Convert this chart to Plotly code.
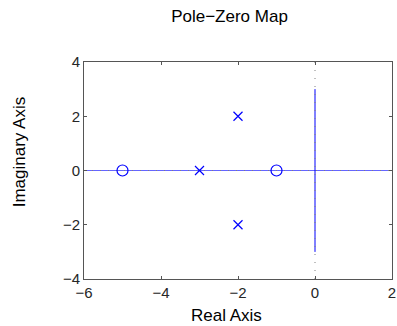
import plotly.graph_objects as go

# Data
pole_re = [-3, -2, -2]
pole_im = [0, 2, -2]
zero_re = [-5, -1]
zero_im = [0, 0]
branch_vert_x = [0, 0]
branch_vert_y = [-3, 3]
branch_horiz_x = [-6, 2]
branch_horiz_y = [0, 0]
x_ticks = [-6, -4, -2, 0, 2]
y_ticks = [-4, -2, 0, 2, 4]
x_ticktext = ["\u22126", "\u22124", "\u22122", "0", "2"]
y_ticktext = ["\u22124", "\u22122", "0", "2", "4"]

BLUE = "#0000ff"
GRAY = "#808080"
TXT = "#262626"
FONT = "Liberation Sans"
W, H = 397, 326
L, R, T, B = 84, 1, 62, 47

fig = go.Figure()
# real-axis line
fig.add_trace(go.Scatter(x=branch_horiz_x, y=branch_horiz_y, mode="lines",
                         line=dict(color=BLUE, width=1), opacity=0.6,
                         hoverinfo="skip", showlegend=False))
# vertical line at 0
fig.add_trace(go.Scatter(x=branch_vert_x, y=branch_vert_y, mode="lines",
                         line=dict(color=BLUE, width=1),
                         hoverinfo="skip", showlegend=False))
# dotted grey axis lines
fig.add_trace(go.Scatter(x=[0, 0], y=[y_ticks[0], y_ticks[-1]], mode="lines",
                         line=dict(color=GRAY, width=1, dash="1px,7px"),
                         hoverinfo="skip", showlegend=False))
fig.add_trace(go.Scatter(x=[x_ticks[0], x_ticks[-1]], y=[0, 0], mode="lines",
                         line=dict(color=GRAY, width=1, dash="1px,7px"),
                         hoverinfo="skip", showlegend=False))
# poles
fig.add_trace(go.Scatter(x=pole_re, y=pole_im, mode="markers",
                         marker=dict(symbol="x-thin", size=9, color=BLUE,
                                     line=dict(color=BLUE, width=1.2)),
                         showlegend=False))
# zeros
fig.add_trace(go.Scatter(x=zero_re, y=zero_im, mode="markers",
                         marker=dict(symbol="circle-open", size=11, color=BLUE,
                                     line=dict(color=BLUE, width=1.2)),
                         showlegend=False))

axis_common = dict(showgrid=False, zeroline=False, showline=True, mirror="ticks",
                   linecolor="#555555", linewidth=1, ticks="inside", ticklen=3,
                   tickcolor="#555555", ticklabeloverflow="allow",
                   tickfont=dict(size=15, color=TXT, family=FONT))

PW, PH = W - L - R, H - T - B

fig.update_layout(
    width=W, height=H,
    margin=dict(l=L, r=R, t=T, b=B),
    paper_bgcolor="white", plot_bgcolor="white",
    title=dict(text="Pole\u2212Zero Map", x=229.5 / W, xanchor="center",
               y=1 - 16 / H, yanchor="middle",
               font=dict(size=17, color="black", family=FONT)),
    xaxis=dict(range=[-6, 2], tickvals=x_ticks, ticktext=x_ticktext, **axis_common),
    yaxis=dict(range=[-4, 4], tickvals=y_ticks, ticktext=y_ticktext, **axis_common),
    annotations=[
        dict(text="Real Axis", xref="paper", yref="paper",
             x=(228.5 - L) / PW, y=-(315 - (H - B)) / PH,
             xanchor="center", yanchor="middle", showarrow=False,
             font=dict(size=17, color="black", family=FONT)),
        dict(text="Imaginary Axis", xref="paper", yref="paper", textangle=-90,
             x=-(L - 19) / PW, y=((H - B) - 151.5) / PH,
             xanchor="center", yanchor="middle", showarrow=False,
             font=dict(size=17, color="black", family=FONT)),
    ],
)

fig.write_html("out.html", config={"displayModeBar": False},
               post_script="document.body.style.margin='0';")
